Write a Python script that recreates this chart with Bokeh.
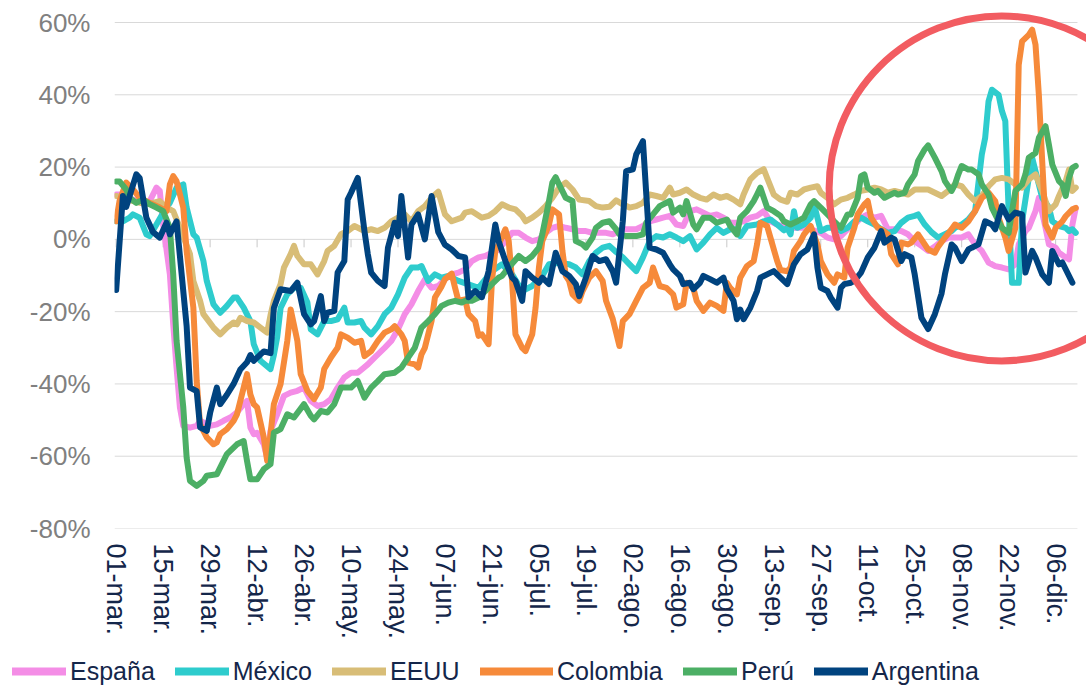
from bokeh.plotting import figure
from bokeh.layouts import column
from bokeh.models import FixedTicker, Legend, LegendItem, Range1d
from bokeh.embed import file_html
from bokeh.resources import INLINE

# ---------------- data (day index from 01-mar, value in %) ----------------
tick_days = [0, 14, 28, 42, 56, 70, 84, 98, 112, 126, 140, 154, 168, 182, 196, 210, 224, 238, 252, 266, 280]
tick_labels = ["01-mar.", "15-mar.", "29-mar.", "12-abr.", "26-abr.", "10-may.", "24-may.", "07-jun.",
               "21-jun.", "05-jul.", "19-jul.", "02-ago.", "16-ago.", "30-ago.", "13-sep.", "27-sep.",
               "11-oct.", "25-oct.", "08-nov.", "22-nov.", "06-dic."]
y_ticks = [-80, -60, -40, -20, 0, 20, 40, 60]
y_labels = ["-80%", "-60%", "-40%", "-20%", "0%", "20%", "40%", "60%"]
first_day, last_day = 0, 286

series_names = ["España", "México", "EEUU", "Colombia", "Perú", "Argentina"]

espana = [(0,12.4),(2,12.4),(5,11),(8,10.1),(10,10.6),(12,14.3),(13,13.4),(14,4.1),(16,-9.7),(17,-23.5),
          (18,-35.5),(19,-46.5),(20,-51.6),(22,-52.1),(24,-51.6),(25,-50.2),(28,-51.6),(30,-51.2),(32,-50.2),
          (34,-49.3),(36,-47.9),(38,-45.6),(39,-44.7),(40,-52.1),(41,-53.9),(42,-53.5),(44,-56.7),(45,-60.4),
          (46,-53),(48,-48.4),(50,-43.3),(52,-42.4),(54,-41.9),(56,-41),(58,-44.7),(60,-46.1),(62,-45.6),
          (64,-44.2),(66,-41),(68,-38.2),(70,-36.9),(72,-36.9),(75,-34.6),(77,-32.7),(80,-30),(82,-28.1),
          (84,-24.9),(86,-20.7),(88,-18),(90,-14.3),(92,-11.1),(94,-13.4),(96,-12.9),(98,-11),(100,-9.7),
          (102,-9.2),(104,-8.3),(106,-6),(108,-5),(110,-4.6),(112,-3.7),(114,-2.8),(116,-0.5),(118,1.8),
          (120,1.8),(122,0.5),(124,-0.5),(126,0),(128,1.8),(130,3.2),(132,3.7),(134,3.2),(136,2.8),(138,2.3),
          (140,2.3),(142,1.8),(144,1.8),(146,1.8),(148,1.4),(151,2.8),(153,2.8),(155,2.8),(157,3.7),(159,5),
          (161,5.5),(163,6),(165,6.5),(167,4.1),(169,3.7),(171,7.8),(173,8.3),(175,7.4),(177,6.5),(179,6.9),
          (181,6),(183,4.6),(185,4.6),(187,5),(189,6),(191,6.5),(193,7.8),(195,5),(197,4.1),(199,3.5),
          (202,3.2),(205,3.2),(207,2.8),(210,1.8),(212,0.5),(214,0),(216,0.9),(218,2.8),(220,4.1),(222,6),
          (224,6.9),(226,6),(228,6.5),(230,2.8),(232,2.8),(234,2.3),(236,1.4),(238,-0.5),(240,-1.8),(242,-3.2),
          (244,-2),(246,-0.5),(248,0.5),(250,0.5),(252,0.5),(254,1.4),(256,-1.4),(258,-3.2),(260,-6.4),
          (262,-7.4),(264,-7.8),(266,-8.3),(268,-6.9),(269,-1.4),(271,2.3),(272,3.2),(274,7.8),(275,11.5),
          (277,3.2),(278,-1.4),(280,-2.3),(281,-3.7),(283,-5),(284,-5.5),(285,4.1),(286,8.7)]

mexico = [(0,5),(2,5),(4,6),(5,6.9),(7,6),(9,1.4),(10,0.9),(12,4.1),(14,7.4),(16,10.1),(18,14.3),(20,15.2),
          (21,8.8),(23,1.4),(24,0.5),(26,-6),(27,-11.5),(29,-18),(31,-20.3),(33,-18.4),(35,-16.1),(36,-16.1),
          (38,-18.9),(40,-22.6),(41,-29),(43,-33.6),(46,-35.9),(47,-32),(48,-27),(49,-19),(51,-15.2),(53,-13.4),
          (55,-13.4),(57,-17.5),(58,-24.9),(60,-26.3),(62,-22.6),(64,-22.6),(66,-22.1),(68,-18.9),(69,-23),
          (71,-23),(73,-22.6),(74,-24.4),(76,-26.3),(78,-24),(80,-20.7),(82,-18.9),(84,-15.2),(86,-10.6),
          (88,-7.8),(90,-7.8),(91,-7.4),(93,-11.5),(95,-9.7),(97,-10.6),(99,-10.1),(102,-11.5),(108,-13.4),
          (112,-8.8),(115,-6.9),(118,-9.7),(121,-14.3),(124,-12.9),(127,-10.1),(129,-6.9),(132,-6.5),
          (135,-6.9),(137,-7.8),(139,-9.7),(141,-6),(143,-3.7),(145,-2.3),(147,-1.8),(149,-3.5),(151,-5),
          (153,-6.9),(155,-8.8),(157,-5),(159,-0.5),(161,0.9),(163,0.5),(165,1.4),(167,0.5),(169,-0.5),
          (171,0.9),(173,-2.8),(175,-0.9),(177,1.4),(179,3.2),(181,1.8),(183,2.8),(185,2.8),(186,0.9),
          (188,3.7),(191,4.1),(193,5),(195,5.5),(197,4.1),(199,2.5),(200,3.2),(201,1.4),(202,7.8),(203,3.2),
          (205,4.1),(207,6),(208,9.7),(209,6),(210,2.3),(212,3.2),(214,3.2),(216,2.3),(218,3.2),(220,5),
          (222,6),(224,5),(226,4.1),(228,2.8),(230,1.8),(232,2.3),(234,4.6),(236,6),(238,6.5),(239,6.9),
          (241,4.1),(243,2),(245,0.5),(247,1.4),(249,2.3),(250,3.2),(252,4.1),(254,5.5),(256,7.8),(258,23.5),
          (259,28.1),(260,38.2),(261,41.4),(263,40),(264,35.5),(265,32.7),(266,7.8),(267,-12),(269,-12),
          (270,5),(272,17),(273,22.6),(275,15.2),(276,11.5),(278,8.8),(279,5),(281,3.7),(283,3.2),(284,2.3),
          (285,2.8),(286,1.8)]

eeuu = [(0,12),(5,10.6),(9,9.7),(13,10.6),(15,8.8),(17,7.8),(19,3.2),(22,-4.1),(23,-11.5),(25,-17),(26,-20.7),
        (29,-24.4),(31,-26.3),(33,-24.4),(35,-23),(36,-23.5),(37,-21.7),(39,-22.6),(41,-23),(43,-24.4),
        (45,-25.8),(46,-21),(47,-17),(49,-12.4),(50,-7.8),(52,-4.1),(53,-1.8),(54,-4.6),(56,-6.9),(58,-6.9),
        (60,-9.7),(62,-6),(63,-3.2),(65,-1.8),(67,1.4),(69,2.3),(71,3.7),(74,2.3),(76,2.8),(78,2.3),(80,3.2),
        (82,5),(84,6),(86,6.9),(88,5),(90,7.8),(92,9.2),(94,11.5),(96,13.2),(98,6.9),(100,5),(103,6),(104,7.4),
        (106,7.8),(109,6),(111,6.5),(113,7.8),(115,9.7),(117,8.8),(119,8.3),(121,6.5),(122,5),(124,6),
        (126,7.4),(128,9.2),(130,11.5),(132,14.3),(134,15.7),(136,13.8),(138,11),(141,10.6),(143,9.2),
        (145,8.8),(147,9),(149,10.8),(151,9.7),(153,8.8),(155,9.2),(157,10.1),(159,12.4),(161,12),(163,11.5),
        (165,14.3),(166,12.4),(168,12.9),(170,13.8),(172,12.4),(174,11.5),(176,11),(178,12.4),(180,11.5),
        (182,12),(184,11),(186,9.7),(187,12.4),(189,16.6),(191,18.4),(193,19.4),(194,17),(196,12.4),(198,11),
        (200,10.4),(201,12.9),(203,12.4),(205,13.8),(207,14.3),(209,14.7),(210,12.9),(212,11.5),(214,9.7),
        (216,11),(218,11.5),(220,12.4),(222,13.4),(224,13.8),(226,14.3),(228,13.8),(230,12.9),(232,13.4),
        (234,12.9),(236,12.4),(238,13.8),(240,13.8),(242,13.8),(244,12.9),(246,12),(248,13.4),(250,15.2),
        (252,14.7),(254,12.4),(256,10.6),(258,12),(260,14.7),(262,16.6),(264,17),(266,16.6),(268,15.2),
        (270,14.3),(272,16.6),(274,18),(276,13.4),(278,7.8),(280,9.7),(281,12),(283,16.1),(284,19.3),
        (285,13.4),(286,14.3)]

colombia = [(0,5),(1,10.6),(3,15.7),(5,13.8),(7,11.5),(10,10.1),(13,8.8),(15,7.8),(16,15.2),(17,17.5),(18,16.1),
            (20,8.8),(21,-3.2),(23,-18.9),(24,-39.2),(25,-51.2),(27,-54.8),(29,-56.7),(30,-56.2),(31,-53.9),
            (33,-52.5),(35,-50.2),(36,-48.4),(37,-44.7),(39,-37.3),(40,-42.9),(41,-45.6),(42,-46.5),(44,-54.8),
            (45,-61.3),(46,-53.9),(47,-45.6),(49,-40),(51,-28.1),(52,-19.4),(54,-28.1),(55,-37.3),(57,-41.9),
            (59,-44.2),(61,-41),(62,-35.9),(64,-32.7),(66,-30),(67,-26.3),(69,-27.2),(71,-28.6),(73,-28.1),
            (74,-32.3),(76,-30.9),(78,-28.1),(80,-25.8),(82,-24.9),(83,-24),(85,-26.3),(86,-28.1),(87,-34.1),
            (89,-34.6),(90,-35.5),(91,-31.8),(92,-30),(94,-22.6),(95,-16.1),(97,-13),(98,-11),(100,-9.5),
            (101,-13.4),(102,-17),(104,-16.6),(105,-20.7),(107,-22.6),(108,-26.7),(109,-26.3),(111,-29),
            (112,-11.5),(113,-3.2),(114,-1.4),(116,2.8),(117,-0.5),(118,-11.5),(119,-26.3),(121,-30),(122,-30.9),
            (124,-26.3),(125,-18.9),(126,-7.8),(127,-0.5),(129,4.1),(130,8.3),(132,6.9),(133,-3.2),(134,-10.1),
            (135,-11.5),(136,-15.2),(138,-17),(139,-14.3),(141,-10.6),(143,-8.8),(145,-11.5),(146,-17),
            (148,-22),(150,-29.5),(151,-22.6),(153,-20.7),(155,-17),(157,-13.4),(159,-12),(160,-7.8),
            (162,-12.9),(164,-13.4),(166,-15.2),(167,-18.9),(169,-18),(170,-12),(172,-13.4),(173,-17),
            (175,-19.8),(177,-17.5),(179,-18.4),(181,-19.8),(182,-12),(183,-13.4),(185,-15.2),(186,-10.6),
            (188,-7.4),(190,-6),(191,-1.4),(192,4.6),(194,3.7),(195,0.5),(197,-6),(198,-8.5),(200,-8.8),
            (201,-7.8),(202,-3.2),(204,-0.5),(205,1.4),(207,3.7),(209,-1.4),(210,-6),(212,-9.7),(214,-12),
            (215,-9.7),(217,-10.6),(218,-2.3),(220,3.2),(221,6.9),(223,9.7),(224,10.6),(225,6),(227,3.2),
            (228,2.8),(230,1.4),(231,-4.1),(233,-6.9),(234,-0.9),(236,-1.4),(237,-0.9),(239,1.4),(240,0),
            (242,-2.8),(244,-3.7),(245,-2),(247,0.5),(249,2.8),(250,4.1),(252,3.2),(254,5),(256,7.8),(258,11.5),
            (260,12.9),(262,10.6),(263,6),(265,0.5),(266,-3.2),(268,3.2),(269,48.3),(270,54.8),(272,56.6),
            (273,58),(274,53.9),(275,40),(276,21.6),(277,4.1),(279,0.5),(280,3.2),(282,5),(283,6.4),(285,8.3),
            (286,8.7)]

peru = [(0,16),(1,16),(3,13.8),(4,11.5),(6,10.1),(8,11),(10,9.7),(12,8.8),(14,7.8),(16,3.2),(17,-9.7),(18,-28),
        (20,-46.5),(21,-60.4),(22,-66.8),(24,-68.2),(26,-66.8),(27,-65.4),(30,-65),(32,-61.3),(33,-59.4),
        (35,-57.6),(36,-56.7),(38,-55.8),(39,-61.3),(40,-66.4),(42,-66.4),(44,-63.6),(46,-62.2),(47,-53.5),
        (49,-52.5),(51,-48.4),(53,-49.3),(56,-45.6),(58,-48.8),(59,-49.8),(61,-47.5),(63,-47.9),(65,-45.6),
        (67,-41),(70,-41),(72,-39.2),(74,-43.8),(76,-41),(78,-39.2),(80,-37.3),(83,-36.9),(85,-35.5),
        (87,-32.7),(89,-30),(91,-24.4),(93,-22.6),(95,-20.7),(97,-18.4),(99,-17.5),(101,-17),(103,-17.5),
        (104,-17),(106,-17),(108,-16.1),(110,-14.3),(112,-12.4),(114,-10.6),(115,-10.1),(117,-7.8),(120,-4.6),
        (122,-6),(124,-4.6),(126,-2.3),(127,1.4),(129,10.6),(130,15.7),(131,17.2),(132,15.2),(134,11.5),
        (136,10.6),(137,-0.5),(139,-1.4),(140,-2.3),(142,0.5),(143,3.2),(145,4.6),(147,5),(149,2.8),(150,1.4),
        (152,0.9),(155,0.9),(157,1.4),(158,4.6),(160,6.9),(162,9.2),(165,10.6),(166,7.4),(168,8.8),(169,6.9),
        (170,10.6),(172,4.1),(173,2.8),(175,6),(177,6),(179,4.6),(182,5.5),(183,3.7),(185,1.4),(186,6),
        (188,7.8),(190,10.6),(191,12.4),(192,14.3),(194,8.8),(196,7.8),(198,6.5),(199,5),(201,4.1),(203,5),
        (205,6),(207,9.7),(208,10.6),(210,8.8),(212,6.9),(214,5),(216,3.2),(218,6.9),(219,6.9),(221,11.5),
        (222,17.5),(223,18),(224,14.3),(226,12.9),(227,13.4),(229,11.5),(230,12),(232,12.9),(233,12.4),
        (235,12.9),(236,15.2),(238,18),(239,21.7),(241,24.9),(242,26),(244,22.6),(246,18.9),(247,16.1),
        (249,13.4),(250,15.2),(251,18),(252,20.3),(254,19.3),(255,19.3),(257,18),(258,15.2),(260,12.4),
        (261,8.8),(263,5),(264,3.2),(266,1.8),(267,7.8),(268,13.4),(270,15.2),(271,18),(272,22.6),(274,23.9),
        (275,28.1),(277,31.3),(278,26.2),(279,20.7),(281,16.1),(282,15.2),(283,12),(284,17),(285,19.8),
        (286,20.3)]

argentina = [(0,-14),(2,12),(3,9),(6,18),(7,17),(9,6),(11,2),(13,0.5),(15,4.6),(16,1.4),(18,5),(21,-24),
             (22,-41),(24,-42),(25,-52),(27,-53),(28,-48),(30,-41),(31,-45.6),(33,-43),(35,-40),(37,-36),
             (39,-34),(40,-32),(41,-33.6),(44,-31),(46,-31.5),(47,-19),(49,-13.8),(52,-14.3),(54,-12),
             (56,-20.7),(58,-23.5),(59,-22.6),(61,-15.7),(62,-22.6),(63,-20.3),(65,-19.8),(66,-9.2),(68,-6),
             (69,11),(70,12.9),(72,17),(74,2.3),(75,-4.1),(76,-9.2),(78,-11.5),(80,-12.9),(81,-2.3),(83,4.6),
             (84,0.9),(85,12),(87,-5),(88,4.1),(90,6.9),(92,0),(94,12),(96,2),(98,-1.5),(100,-2.8),(102,-4.6),
             (104,-5),(105,-16),(107,-14.3),(109,-16),(111,-8.8),(113,4.1),(114,-0.5),(116,-6),(118,-10.6),
             (119,-11.5),(121,-17),(122,-8.8),(124,-10.6),(126,-12),(127,-10.6),(129,-12.4),(131,-3.7),
             (133,-8.8),(135,-10.1),(137,-12.4),(138,-15.7),(140,-10.6),(142,-4.6),(144,-6),(146,-5.5),
             (148,-8.8),(149,-12),(151,5),(152,18.9),(154,19.4),(155,23.5),(157,27.2),(158,12.4),(159,-2.3),
             (161,-2.8),(163,-3.7),(165,-6.9),(166,-8.3),(168,-10.1),(169,-12.4),(171,-12),(172,-13.8),
             (174,-12),(175,-10.1),(177,-11),(179,-12),(181,-10.6),(182,-13.8),(184,-17),(185,-22.1),
             (186,-19.4),(187,-22.1),(189,-18.9),(191,-14.3),(192,-10.6),(194,-9.7),(196,-8.8),(198,-10.6),
             (200,-12.4),(202,-6.9),(204,-4.1),(206,-2.8),(208,1.4),(209,-7.8),(210,-13.4),(212,-14.3),
             (213,-16.1),(215,-18.9),(216,-13.4),(217,-12.4),(219,-12),(220,-11.5),(222,-9.2),(224,-5),
             (226,-2.3),(228,2.3),(229,-0.9),(231,0.5),(232,0),(234,-6),(235,-4.1),(237,-5),(238,-9.7),
             (240,-21.7),(242,-24.8),(244,-20.7),(246,-15),(247,-9.7),(249,-1.4),(250,-2.3),(252,-6),
             (254,-2.8),(255,-2.3),(257,-1.4),(259,5),(261,4.1),(262,2.8),(264,9.2),(266,5.5),(268,7.4),
             (270,6.9),(271,-9.2),(273,-3.2),(274,-5),(276,-9.7),(278,-12),(279,-3.2),(281,-6.9),(282,-6.4),
             (285,-12)]

# highlight circle (annotation): centre in data units, radius in screen px
highlight_day = 263.9
highlight_value = 14.1
highlight_radius_px = 172.5

# ---------------- styling ----------------
colors = ["#F48DE6", "#2ECCCD", "#D8BD77", "#F68A3A", "#4CAF65", "#00437F"]
label_color = "#14264A"
grid_color = "#D9D9D9"
FONT = "Liberation Sans"
LW = 6

# ---------------- main chart ----------------
p = figure(width=1086, height=650, output_backend="svg", toolbar_location=None,
           x_range=Range1d(-0.5, 289.2), y_range=Range1d(-80, 66.09),
           min_border_left=114, min_border_right=0, min_border_top=0, min_border_bottom=122)
p.frame_align = False
p.outline_line_color = None
p.background_fill_color = "white"
p.border_fill_color = "white"

p.xaxis.ticker = FixedTicker(ticks=tick_days)
p.xaxis.major_label_overrides = {d: l for d, l in zip(tick_days, tick_labels)}
p.xaxis.major_label_orientation = "vertical"
p.xaxis.axis_line_color = None
p.xaxis.major_tick_line_color = None
p.xaxis.minor_tick_line_color = None
p.xaxis.major_tick_out = 0
p.xaxis.major_tick_in = 0
p.xaxis.major_label_standoff = 15
p.xaxis.major_label_text_font = FONT
p.xaxis.major_label_text_font_size = "27px"
p.xaxis.major_label_text_color = label_color

p.yaxis.ticker = FixedTicker(ticks=y_ticks)
p.yaxis.major_label_overrides = {t: l for t, l in zip(y_ticks, y_labels)}
p.yaxis.axis_line_color = None
p.yaxis.major_tick_line_color = None
p.yaxis.minor_tick_line_color = None
p.yaxis.major_tick_out = 0
p.yaxis.major_tick_in = 0
p.yaxis.major_label_standoff = 24
p.yaxis.major_label_text_font = FONT
p.yaxis.major_label_text_font_size = "26px"
p.yaxis.major_label_text_color = "#808080"

p.xgrid.grid_line_color = None
p.ygrid.grid_line_color = None

# horizontal gridlines spanning the data period only
p.segment(x0=[first_day - 0.5] * len(y_ticks), y0=y_ticks, x1=[last_day + 0.5] * len(y_ticks), y1=y_ticks,
          line_color=grid_color, line_width=1)
# small tick marks on the 0 % line
p.segment(x0=tick_days, y0=[0] * len(tick_days), x1=tick_days, y1=[-2.2] * len(tick_days),
          line_color="#C8C8C8", line_width=1)

all_series = [espana, mexico, eeuu, colombia, peru, argentina]
for name, data, col in zip(series_names, all_series, colors):
    xs = [d for d, v in data]
    ys = [v for d, v in data]
    p.line(xs, ys, line_color=col, line_width=LW, line_join="round", line_cap="round")

p.circle(x=[highlight_day], y=[highlight_value], radius=highlight_radius_px, radius_units="screen",
         fill_color=None, line_color="#F25C61", line_width=7)

# ---------------- legend strip ----------------
pl = figure(width=1086, height=38, output_backend="svg", toolbar_location=None,
            x_range=Range1d(0, 1), y_range=Range1d(0, 1), x_axis_type=None, y_axis_type=None,
            min_border_left=0, min_border_right=0, min_border_top=0, min_border_bottom=0)
pl.frame_align = False
pl.outline_line_color = None
pl.xgrid.grid_line_color = None
pl.ygrid.grid_line_color = None

# key renderers for the legend (their points lie outside the strip's visible range)
keys = {}
for name, col in zip(series_names, colors):
    keys[name] = pl.line([-5, -4], [-5, -5], line_color=col, line_width=8, line_cap="round")

def make_legend(names, loc, gw):
    lg = Legend(items=[LegendItem(label=n, renderers=[keys[n]]) for n in names],
                orientation="horizontal", location=loc,
                glyph_width=gw, glyph_height=30, label_standoff=4, spacing=20,
                padding=0, margin=0, border_line_color=None, background_fill_alpha=0,
                label_text_font=FONT, label_text_font_size="25px", label_text_color=label_color,
                label_height=30)
    pl.add_layout(lg, "center")

make_legend(series_names[0:3], (12, 2), 54)
make_legend(series_names[3:4], (480, 2), 73)
make_legend(series_names[4:6], (683, 2), 54)

open("out.html", "w").write(file_html(column(p, pl, spacing=0), INLINE))
